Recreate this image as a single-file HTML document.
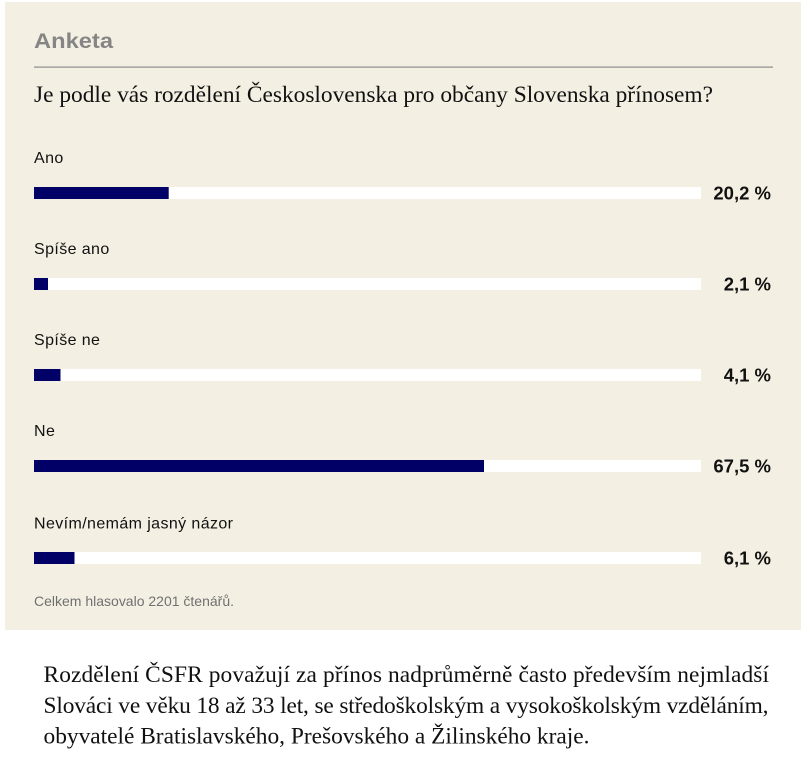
<!DOCTYPE html>
<html>
<head>
<meta charset="utf-8">
<style>
html,body{margin:0;padding:0;background:#fff;}
svg{display:block;}
.lab{font-family:"Liberation Sans",Arial,sans-serif;font-size:16px;fill:#111;}
.pct{font-family:"Liberation Sans",Arial,sans-serif;font-size:18.5px;font-weight:bold;fill:#111;}
.ser{font-family:"Liberation Serif","Times New Roman",serif;fill:#111;}
</style>
</head>
<body>
<svg width="801" height="766" viewBox="0 0 801 766" xmlns="http://www.w3.org/2000/svg">
  <rect x="0" y="0" width="801" height="766" fill="#ffffff"/>
  <rect x="5" y="2" width="796" height="628" fill="#f3f0e3"/>

  <text x="34" y="48" font-family="Liberation Sans, Arial, sans-serif" font-size="21.5" font-weight="bold" fill="#858585" textLength="79" lengthAdjust="spacingAndGlyphs">Anketa</text>
  <rect x="34" y="66.5" width="739" height="1.2" fill="#8c8c8c"/>

  <text class="ser" x="34" y="102" font-size="23.4" textLength="679" lengthAdjust="spacing">Je podle vás rozdělení Československa pro občany Slovenska přínosem?</text>

  <!-- Row 1 -->
  <text class="lab" x="34" y="163" letter-spacing="0.4">Ano</text>
  <rect x="34" y="187" width="667" height="12" fill="#ffffff"/>
  <rect x="34" y="187" width="134.7" height="12" fill="#000066"/>
  <text class="pct" x="771" y="199.5" text-anchor="end">20,2 %</text>

  <!-- Row 2 -->
  <text class="lab" x="34" y="254" letter-spacing="0.4">Spíše ano</text>
  <rect x="34" y="278" width="667" height="12" fill="#ffffff"/>
  <rect x="34" y="278" width="14" height="12" fill="#000066"/>
  <text class="pct" x="771" y="290.5" text-anchor="end">2,1 %</text>

  <!-- Row 3 -->
  <text class="lab" x="34" y="345" letter-spacing="0.4">Spíše ne</text>
  <rect x="34" y="369" width="667" height="12" fill="#ffffff"/>
  <rect x="34" y="369" width="26.5" height="12" fill="#000066"/>
  <text class="pct" x="771" y="381.5" text-anchor="end">4,1 %</text>

  <!-- Row 4 -->
  <text class="lab" x="34" y="436" letter-spacing="0.4">Ne</text>
  <rect x="34" y="460" width="667" height="12" fill="#ffffff"/>
  <rect x="34" y="460" width="450" height="12" fill="#000066"/>
  <text class="pct" x="771" y="472.5" text-anchor="end">67,5 %</text>

  <!-- Row 5 -->
  <text class="lab" x="34" y="528.5" textLength="199" lengthAdjust="spacing">Nevím/nemám jasný názor</text>
  <rect x="34" y="552" width="667" height="12" fill="#ffffff"/>
  <rect x="34" y="552" width="40.5" height="12" fill="#000066"/>
  <text class="pct" x="771" y="564.5" text-anchor="end">6,1 %</text>

  <text x="34" y="606" font-family="Liberation Sans, Arial, sans-serif" font-size="14" fill="#707070" textLength="200" lengthAdjust="spacing">Celkem hlasovalo 2201 čtenářů.</text>

  <!-- Body paragraph -->
  <text class="ser" x="43.5" y="682" font-size="23.4" textLength="725.5" lengthAdjust="spacing">Rozdělení ČSFR považují za přínos nadprůměrně často především nejmladší</text>
  <text class="ser" x="43.5" y="713" font-size="23.4" textLength="725" lengthAdjust="spacing">Slováci ve věku 18 až 33 let, se středoškolským a vysokoškolským vzděláním,</text>
  <text class="ser" x="43.5" y="743.5" font-size="23.4" textLength="546" lengthAdjust="spacing">obyvatelé Bratislavského, Prešovského a Žilinského kraje.</text>
</svg>
</body>
</html>
